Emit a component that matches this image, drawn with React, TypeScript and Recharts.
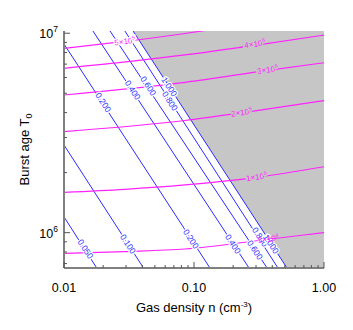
import React from 'react';
import { ComposedChart, Line, Area, Scatter, XAxis, YAxis } from 'recharts';

// ---------- axes ----------
const X_DOMAIN: [number, number] = [0.01, 1];
const Y_DOMAIN: [number, number] = [6.65e5, 1.026e7];
const X_MAJOR = [0.01, 0.1, 1];
const X_MAJOR_LABELS = ['0.01', '0.10', '1.00'];
const X_MINOR = [0.02, 0.03, 0.04, 0.05, 0.06, 0.07, 0.08, 0.09, 0.2, 0.3, 0.4, 0.5, 0.6, 0.7, 0.8, 0.9];
const Y_MAJOR = [1e6, 1e7];
const Y_MAJOR_EXP = ['6', '7'];
const Y_MINOR = [7e5, 8e5, 9e5, 2e6, 3e6, 4e6, 5e6, 6e6, 7e6, 8e6, 9e6];

// ---------- blue contours (n, T end points) ----------
const BLUE_LEVELS = ['0.050', '0.100', '0.200', '0.400', '0.600', '0.800', '1.000'];
const BLUE_N = [
  [0.01, 0.01786],
  [0.01, 0.0409],
  [0.01, 0.1327],
  [0.0167, 0.265],
  [0.0226, 0.365],
  [0.0294, 0.4426],
  [0.034, 0.519],
];
const BLUE_T = [
  [1.2e6, 6.65e5],
  [2.75e6, 6.65e5],
  [8.83e6, 6.65e5],
  [1.026e7, 6.65e5],
  [1.026e7, 6.65e5],
  [1.026e7, 6.65e5],
  [1.026e7, 6.65e5],
];
const BLUE_LABEL_TEXT = ['0.050', '0.100', '0.200', '0.200', '0.400', '0.400', '0.600', '0.600', '0.800', '0.800', '1.000', '1.000'];
const BLUE_LABEL_N = [0.01463, 0.03108, 0.02005, 0.0948, 0.03377, 0.1995, 0.04451, 0.2945, 0.06537, 0.3219, 0.06457, 0.3912];
const BLUE_LABEL_T = [8.28e5, 8.78e5, 4.5e6, 9.3e5, 5.19e6, 8.78e5, 5.44e6, 8.19e5, 4.57e6, 9.52e5, 5.39e6, 8.78e5];

// ---------- magenta contours ----------
const MAG_LEVELS = ['5e5', '4e5', '3e5', '2e5', '1e5', '5e4'];
const MAG_N = [
  [0.01, 0.0294, 0.0853, 0.189],
  [0.01, 0.0853, 0.2945, 1],
  [0.01, 0.0853, 0.3688, 1],
  [0.01, 0.0853, 0.2327, 1],
  [0.01, 0.0294, 0.0853, 0.3035, 1],
  [0.01, 0.0294, 0.0853, 0.3728, 1],
];
const MAG_T = [
  [8.4e6, 9.1e6, 9.97e6, 1.077e7],
  [6.67e6, 7.78e6, 8.7e6, 9.79e6],
  [4.9e6, 5.67e6, 6.51e6, 7.11e6],
  [3.21e6, 3.65e6, 3.99e6, 4.59e6],
  [1.594e6, 1.65e6, 1.736e6, 1.895e6, 2.14e6],
  [7.88e5, 8.04e5, 8.28e5, 9.27e5, 1.0e6],
];
const MAG_LABEL_MANT = ['5', '4', '3', '2', '1', '5'];
const MAG_LABEL_EXP = ['5', '5', '5', '5', '5', '4'];
const MAG_LABEL_N = [0.02945, 0.2945, 0.3688, 0.2327, 0.3035, 0.3728];
const MAG_LABEL_T = [9.07e6, 8.8e6, 6.54e6, 3.99e6, 1.895e6, 9.27e5];

// ---------- shaded region (bounded by the 1.000 contour) ----------
const SHADE_N = [0.034, 0.519, 1];
const SHADE_T = [1.026e7, 6.65e5, 6.65e5];

// ---------- styles ----------
const FONT = '"Liberation Sans", Arial, Helvetica, sans-serif';
const BLUE = '#2a2aff';
const MAGENTA = '#ff22ff';
const GRAY = '#c6c6c6';
const TICK = '#555';
const MAG_HALO = ['#ffffff', GRAY, GRAY, GRAY, GRAY, 'none'];

const blueData = BLUE_LEVELS.map((_, i) => BLUE_N[i].map((n, j) => ({ n, T: BLUE_T[i][j] })));
const magData = MAG_LEVELS.map((_, i) => MAG_N[i].map((n, j) => ({ n, T: MAG_T[i][j] })));
const shadeData = SHADE_N.map((n, j) => ({ n, T: SHADE_T[j] }));
const blueLabels = BLUE_LABEL_TEXT.map((label, i) => ({ n: BLUE_LABEL_N[i], T: BLUE_LABEL_T[i], label }));
const magLabels = MAG_LABEL_MANT.map((m, i) => ({ n: MAG_LABEL_N[i], T: MAG_LABEL_T[i], idx: i }));

const isIn = (arr: number[], v: number) => arr.findIndex((m) => Math.abs(v / m - 1) < 1e-9);

const BottomTick = (p: any) => {
  const { x, y, payload } = p;
  const idx = isIn(X_MAJOR, payload.value);
  return (
    <g>
      <line x1={x} x2={x} y1={y} y2={y - (idx >= 0 ? 6 : 3)} stroke={TICK} strokeWidth={1} />
      {idx >= 0 && (
        <text x={x} y={y + 24} textAnchor="middle" fontSize={12.5} fontFamily={FONT} fill="#000">
          {X_MAJOR_LABELS[idx]}
        </text>
      )}
    </g>
  );
};
const TopTick = (p: any) => {
  const { x, y, payload } = p;
  const idx = isIn(X_MAJOR, payload.value);
  return <line x1={x} x2={x} y1={y} y2={y + (idx >= 0 ? 6 : 3)} stroke={TICK} strokeWidth={1} />;
};
const LeftTick = (p: any) => {
  const { x, y, payload } = p;
  const idx = isIn(Y_MAJOR, payload.value);
  return (
    <g>
      <line x1={x} x2={x + (idx >= 0 ? 6 : 3)} y1={y} y2={y} stroke={TICK} strokeWidth={1} />
      {idx >= 0 && (
        <text x={x - 6} y={y + 5} textAnchor="end" fontSize={12.5} fontFamily={FONT} fill="#000">
          10<tspan dy={-6} fontSize={8.5}>{Y_MAJOR_EXP[idx]}</tspan>
        </text>
      )}
    </g>
  );
};
const RightTick = (p: any) => {
  const { x, y, payload } = p;
  const idx = isIn(Y_MAJOR, payload.value);
  return <line x1={x} x2={x - (idx >= 0 ? 6 : 3)} y1={y} y2={y} stroke={TICK} strokeWidth={1} />;
};

const BlueLabel = (p: any) => {
  const { cx, cy, payload } = p;
  if (cx == null || cy == null) return <g />;
  return (
    <text
      x={cx}
      y={cy}
      transform={`rotate(57 ${cx} ${cy})`}
      textAnchor="middle"
      dominantBaseline="central"
      fontSize={8.5}
      fontFamily={FONT}
      fill={BLUE}
      stroke="#ffffff"
      strokeWidth={2.5}
      paintOrder="stroke"
    >
      {payload.label}
    </text>
  );
};

const MagLabel = (p: any) => {
  const { cx, cy, payload } = p;
  if (cx == null || cy == null) return <g />;
  const i = payload.idx;
  const halo = MAG_HALO[i];
  return (
    <text
      x={cx}
      y={cy}
      transform={`rotate(-8 ${cx} ${cy})`}
      textAnchor="middle"
      dominantBaseline="central"
      fontSize={8}
      fontFamily={FONT}
      fill={MAGENTA}
      stroke={halo}
      strokeWidth={halo === 'none' ? 0 : 2.5}
      paintOrder="stroke"
    >
      {MAG_LABEL_MANT[i]}×10<tspan dy={-3} fontSize={5.5}>{MAG_LABEL_EXP[i]}</tspan>
    </text>
  );
};

const XTitle = (p: any) => {
  const vb = p.viewBox || {};
  const cx = vb.x + vb.width / 2;
  return (
    <text x={cx} y={312} textAnchor="middle" fontSize={13} fontFamily={FONT} fill="#000">
      Gas density n (cm<tspan dy={-5} fontSize={8}>-3</tspan>
      <tspan dy={5}>)</tspan>
    </text>
  );
};
const YTitle = (p: any) => {
  const vb = p.viewBox || {};
  const cy = vb.y + vb.height / 2;
  return (
    <text x={29} y={cy} transform={`rotate(-90 29 ${cy})`} textAnchor="middle" fontSize={13} fontFamily={FONT} fill="#000">
      Burst age T<tspan dy={3} fontSize={9}>0</tspan>
    </text>
  );
};

const X_TICKS = [...X_MAJOR, ...X_MINOR].sort((a, b) => a - b);
const Y_TICKS = [...Y_MAJOR, ...Y_MINOR].sort((a, b) => a - b);

export default function App() {
  return (
    <div style={{ position: 'absolute', left: 0, top: 0, background: '#fff' }}>
      <ComposedChart width={353} height={330} margin={{ top: 31, right: 29, bottom: 0, left: 0 }}>
        <XAxis
          xAxisId="b"
          dataKey="n"
          type="number"
          scale="log"
          domain={X_DOMAIN}
          allowDataOverflow
          ticks={X_TICKS}
          interval={0}
          tickSize={0}
          tickMargin={0}
          tickLine={false}
          tick={<BottomTick />}
          height={62}
          axisLine={{ stroke: '#808080', strokeWidth: 2 }}
          label={{ content: <XTitle /> }}
        />
        <XAxis
          xAxisId="t"
          dataKey="n"
          type="number"
          orientation="top"
          scale="log"
          domain={X_DOMAIN}
          allowDataOverflow
          ticks={X_TICKS}
          interval={0}
          tickSize={0}
          tickMargin={0}
          tickLine={false}
          tick={<TopTick />}
          height={0}
          axisLine={{ stroke: '#444', strokeWidth: 1 }}
        />
        <YAxis
          yAxisId="l"
          dataKey="T"
          type="number"
          scale="log"
          domain={Y_DOMAIN}
          allowDataOverflow
          ticks={Y_TICKS}
          interval={0}
          tickSize={0}
          tickMargin={0}
          tickLine={false}
          tick={<LeftTick />}
          width={64}
          axisLine={{ stroke: '#808080', strokeWidth: 2 }}
          label={{ content: <YTitle /> }}
        />
        <YAxis
          yAxisId="r"
          dataKey="T"
          type="number"
          orientation="right"
          scale="log"
          domain={Y_DOMAIN}
          allowDataOverflow
          ticks={Y_TICKS}
          interval={0}
          tickSize={0}
          tickMargin={0}
          tickLine={false}
          tick={<RightTick />}
          width={0}
          axisLine={{ stroke: '#666', strokeWidth: 1.5 }}
        />
        <Line
          xAxisId="t"
          yAxisId="r"
          data={[{ n: 0.01, T: 1e6 }, { n: 1, T: 1e7 }]}
          dataKey="T"
          stroke="none"
          dot={false}
          activeDot={false}
          isAnimationActive={false}
        />
        <Area
          xAxisId="b"
          yAxisId="l"
          data={shadeData}
          dataKey="T"
          type="linear"
          baseValue={Y_DOMAIN[1]}
          stroke="none"
          fill={GRAY}
          fillOpacity={1}
          dot={false}
          activeDot={false}
          isAnimationActive={false}
        />
        {blueData.map((d, i) => (
          <Line
            key={'b' + i}
            xAxisId="b"
            yAxisId="l"
            data={d}
            dataKey="T"
            type="linear"
            stroke={BLUE}
            strokeWidth={1}
            dot={false}
            activeDot={false}
            isAnimationActive={false}
          />
        ))}
        {magData.map((d, i) => (
          <Line
            key={'m' + i}
            xAxisId="b"
            yAxisId="l"
            data={d}
            dataKey="T"
            type="monotone"
            stroke={MAGENTA}
            strokeWidth={1.2}
            dot={false}
            activeDot={false}
            isAnimationActive={false}
          />
        ))}
        <Scatter xAxisId="b" yAxisId="l" data={blueLabels} dataKey="T" shape={<BlueLabel />} isAnimationActive={false} />
        <Scatter xAxisId="b" yAxisId="l" data={magLabels} dataKey="T" shape={<MagLabel />} isAnimationActive={false} />
      </ComposedChart>
    </div>
  );
}
